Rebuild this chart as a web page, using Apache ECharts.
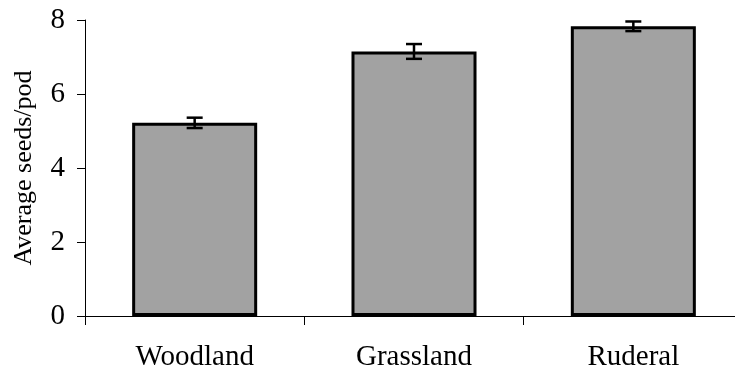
<!DOCTYPE html>
<html>
<head>
<meta charset="utf-8">
<script src="https://cdn.jsdelivr.net/npm/echarts@6/dist/echarts.min.js"></script>
<style>html,body{margin:0;padding:0;background:#fff;overflow:hidden;width:735px;height:377px}#c{width:743px;height:377px}</style>
</head>
<body>
<div id="c"></div>
<script>
var categories = ['Woodland', 'Grassland', 'Ruderal'];
var means = [5.22, 7.15, 7.83];
var errors = [0.14, 0.2, 0.13];
var yTicks = [0, 2, 4, 6, 8];

var chart = echarts.init(document.getElementById('c'), null, {renderer: 'canvas'});
var font = 'Liberation Serif';
chart.setOption({
  animation: false,
  grid: {left: 85, right: 0, top: 20, bottom: 61, containLabel: false, outerBoundsMode: 'none'},
  xAxis: {
    type: 'category',
    data: categories,
    axisLine: {lineStyle: {color: '#000', width: 1}},
    axisTick: {show: true, alignWithLabel: false, length: 9, lineStyle: {color: '#000'}},
    axisLabel: {color: '#000', fontFamily: font, fontSize: 29, margin: 27}
  },
  yAxis: {
    type: 'value',
    min: yTicks[0], max: yTicks[yTicks.length - 1], interval: 2,
    name: 'Average seeds/pod',
    nameLocation: 'middle',
    nameGap: 48,
    nameTextStyle: {color: '#000', fontFamily: font, fontSize: 26},
    axisLine: {show: true, lineStyle: {color: '#000', width: 1}},
    axisTick: {show: true, length: 8, lineStyle: {color: '#000'}},
    axisLabel: {color: '#000', fontFamily: font, fontSize: 29, margin: 20},
    splitLine: {show: false}
  },
  series: [
    {
      type: 'bar',
      data: means,
      barWidth: '57%',
      itemStyle: {color: '#a2a2a2', borderColor: '#000', borderWidth: 3}
    },
    {
      type: 'custom',
      data: means.map(function (m, i) { return [i, m - errors[i], m + errors[i]]; }),
      renderItem: function (params, api) {
        var x = api.coord([api.value(0), 0])[0];
        var lo = api.coord([api.value(0), api.value(1)])[1];
        var hi = api.coord([api.value(0), api.value(2)])[1];
        var w = 8;
        var st = {stroke: '#000', lineWidth: 2.5};
        return {type: 'group', children: [
          {type: 'line', shape: {x1: x, y1: lo, x2: x, y2: hi}, style: st},
          {type: 'line', shape: {x1: x - w, y1: hi, x2: x + w, y2: hi}, style: st},
          {type: 'line', shape: {x1: x - w, y1: lo, x2: x + w, y2: lo}, style: st}
        ]};
      },
      z: 10
    }
  ]
});
</script>
</body>
</html>
